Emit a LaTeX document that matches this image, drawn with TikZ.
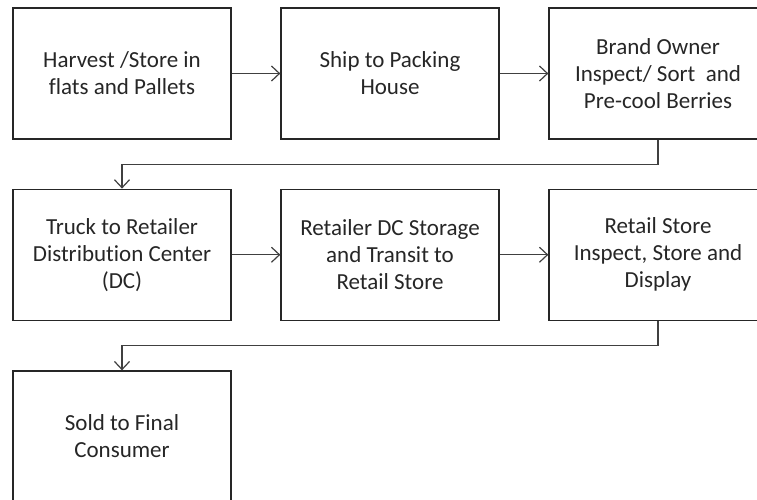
\documentclass[tikz,border=0pt]{standalone}
\usepackage{fontspec}
\setmainfont[Ligatures=NoCommon]{Carlito}
\usetikzlibrary{arrows.meta}
\begin{document}
\begin{tikzpicture}[x=1pt,y=-1pt,
  stepbox/.style={draw=black!85, line width=1.3pt, minimum width=218pt,
    minimum height=131pt, align=center, inner sep=0pt, text=black!85,
    font=\fontsize{23}{27}\selectfont},
  flow/.style={draw=black!75, line width=1.2pt,
    -{Straight Barb[length=8pt,width=15pt,line width=1.2pt]}}]
\useasboundingbox (0,0) rectangle (757,500);
% first row
\node[stepbox] (harvest) at (122,73.5) {Harvest /Store in\\flats and Pallets};
\node[stepbox] (ship) at (390,73.5) {Ship to Packing\\House};
\node[stepbox] (brand) at (658,73.5) {Brand Owner\\Inspect/ Sort\ \ and\\Pre-cool Berries};
% second row
\node[stepbox] (truck) at (122,254.75) {Truck to Retailer\\Distribution Center\\(DC)};
\node[stepbox] (dcstore) at (390,254.75) {Retailer DC Storage\\and Transit to\\Retail Store};
\node[stepbox] (retail) at (658,254.75) {Retail Store\\Inspect, Store and\\Display};
% third row
\node[stepbox] (sold) at (122,436.5) {Sold to Final\\Consumer};
% connectors
\draw[flow] (harvest) -- (ship);
\draw[flow] (ship) -- (brand);
\draw[flow] (brand.south) -- ++(0,25) -| (truck.north);
\draw[flow] (truck) -- (dcstore);
\draw[flow] (dcstore) -- (retail);
\draw[flow] (retail.south) -- ++(0,24.5) -| (sold.north);
\end{tikzpicture}
\end{document}
